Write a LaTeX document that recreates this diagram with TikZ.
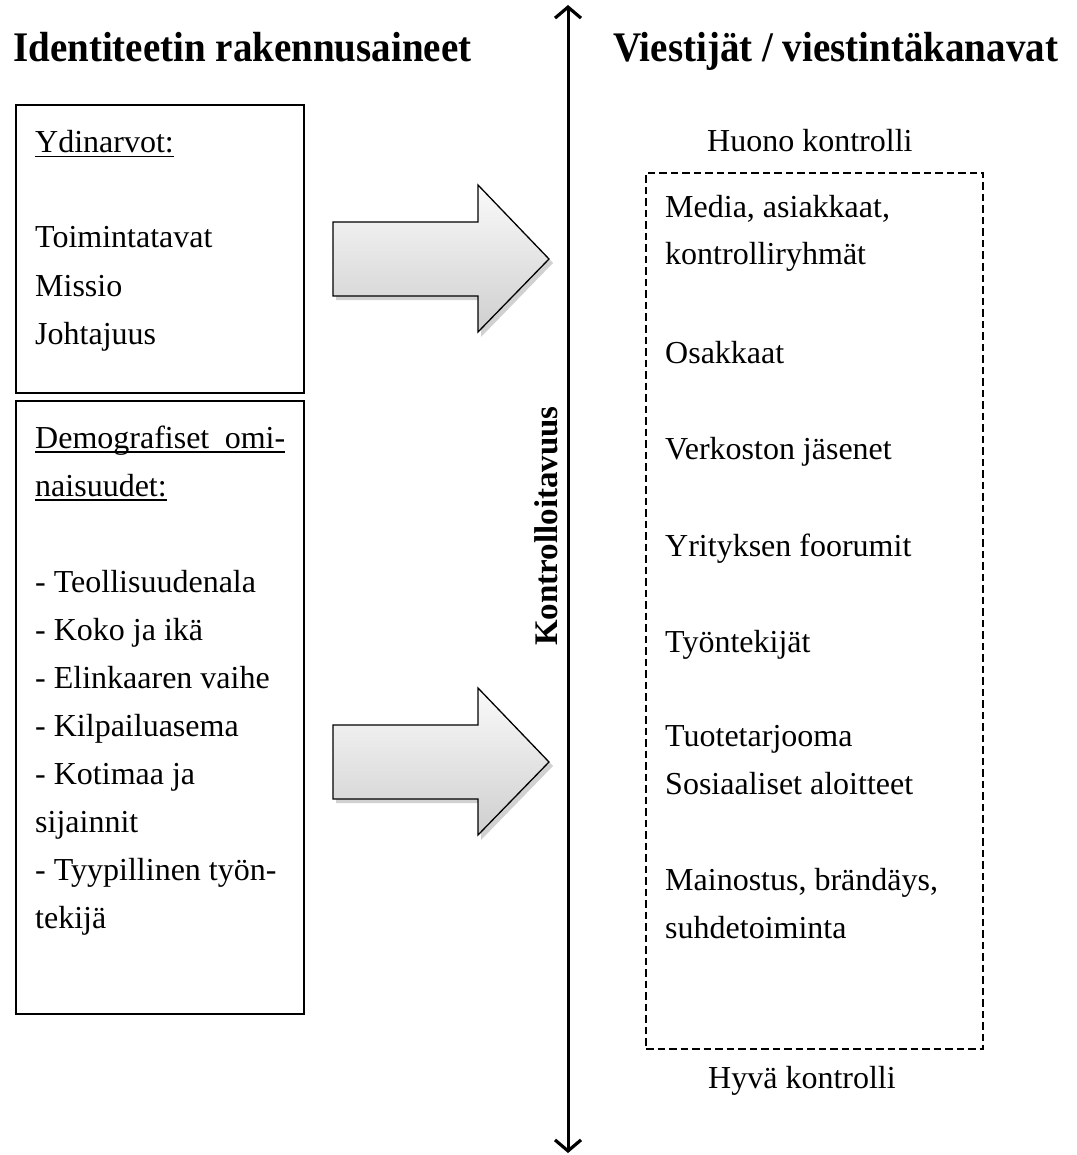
\documentclass[tikz,border=0pt]{standalone}
\usepackage{fontspec}
\setmainfont{Liberation Serif}
\usetikzlibrary{arrows.meta}
% underline at a fixed offset below the baseline, through descenders
\newcommand\undl[1]{\setbox0\hbox{#1}\rlap{\rule[-4.5pt]{\wd0}{1.6pt}}\box0}
% headings are set a little taller than wide
\newcommand\tallbf[1]{\scalebox{1}[1.08]{#1}}
\begin{document}
\begin{tikzpicture}[x=1pt,y=-1pt,
  body/.style={anchor=base west,inner sep=0pt,font=\fontsize{32}{38}\selectfont},
  heading/.style={anchor=base west,inner sep=0pt,font=\fontsize{39}{44}\selectfont\bfseries},
  panel/.style={draw,line width=2pt,anchor=north west,inner sep=0pt},
  channelbox/.style={draw,line width=2pt,dash pattern=on 7.5pt off 4pt,anchor=north west,inner sep=0pt},
  axisline/.style={line width=3pt,{Straight Barb[length=11pt,width=26pt,line width=3.2pt]}-{Straight Barb[length=11pt,width=26pt,line width=3.2pt]}},
  bigarrow/.pic={
    \fill[black,opacity=0.18] (3,4) -- (148,4) -- (148,-33) -- (220,41) -- (148,115) -- (148,78) -- (3,78) -- cycle;
    \draw[line width=1.3pt,top color=gray!4,bottom color=gray!38]
      (0,0) -- (145,0) -- (145,-37) -- (216,37) -- (145,110) -- (145,74) -- (0,74) -- cycle;
  }
]
\useasboundingbox (0,0) rectangle (1076,1155);

% headings
\node[heading] (lefthead) at (13,62) {\tallbf{Identiteetin rakennusaineet}};
\node[heading] (righthead) at (613,62) {\tallbf{Viestijät / viestintäkanavat}};

% left panels
\node[panel,minimum width=288pt,minimum height=288pt] (core) at (15,104) {};
\node[panel,minimum width=288pt,minimum height=613pt] (demo) at (15,400) {};

\node[body] (ydin) at (35,153) {\undl{Ydinarvot:}};
\node[body] (toim) at (35,248) {Toimintatavat};
\node[body] (miss) at (35,296) {Missio};
\node[body] (joht) at (35,344) {Johtajuus};

\node[body] (demo1) at (35,448) {\undl{\hbox to 250pt{Demografiset\hfill omi-}}};
\node[body] (demo2) at (35,496) {\undl{naisuudet:}};
\node[body] (d1) at (35,592) {- Teollisuudenala};
\node[body] (d2) at (35,640) {- Koko ja ikä};
\node[body] (d3) at (35,688) {- Elinkaaren vaihe};
\node[body] (d4) at (35,736) {- Kilpailuasema};
\node[body] (d5) at (35,784) {- Kotimaa ja};
\node[body] (d6) at (35,832) {sijainnit};
\node[body] (d7) at (35,880) {- Tyypillinen työn-};
\node[body] (d8) at (35,928) {tekijä};

% block arrows towards the axis
\pic at (333,222) {bigarrow};
\pic at (333,725) {bigarrow};

% controllability axis
\coordinate (axtop) at (568,5);
\coordinate (axbot) at (568,1153);
\draw[axisline] (axbot) -- (axtop);
\node[rotate=90,inner sep=0pt,font=\fontsize{33}{38}\selectfont\bfseries] (axlabel) at (546,526) {Kontrolloitavuus};

% channels
\node[body] (bad) at (707,152) {Huono kontrolli};
\node[channelbox,minimum width=337pt,minimum height=876pt] (channels) at (645,172) {};
\node[body] (good) at (708,1088) {Hyvä kontrolli};

\node[body] (c1) at (665,218) {Media, asiakkaat,};
\node[body] (c2) at (665,265) {kontrolliryhmät};
\node[body] (c3) at (665,363) {Osakkaat};
\node[body] (c4) at (665,459) {Verkoston jäsenet};
\node[body] (c5) at (665,556) {Yrityksen foorumit};
\node[body] (c6) at (665,652) {Työntekijät};
\node[body] (c7) at (665,746) {Tuotetarjooma};
\node[body] (c8) at (665,794) {Sosiaaliset aloitteet};
\node[body] (c9) at (665,890) {Mainostus, brändäys,};
\node[body] (c10) at (665,938) {suhdetoiminta};
\end{tikzpicture}
\end{document}
